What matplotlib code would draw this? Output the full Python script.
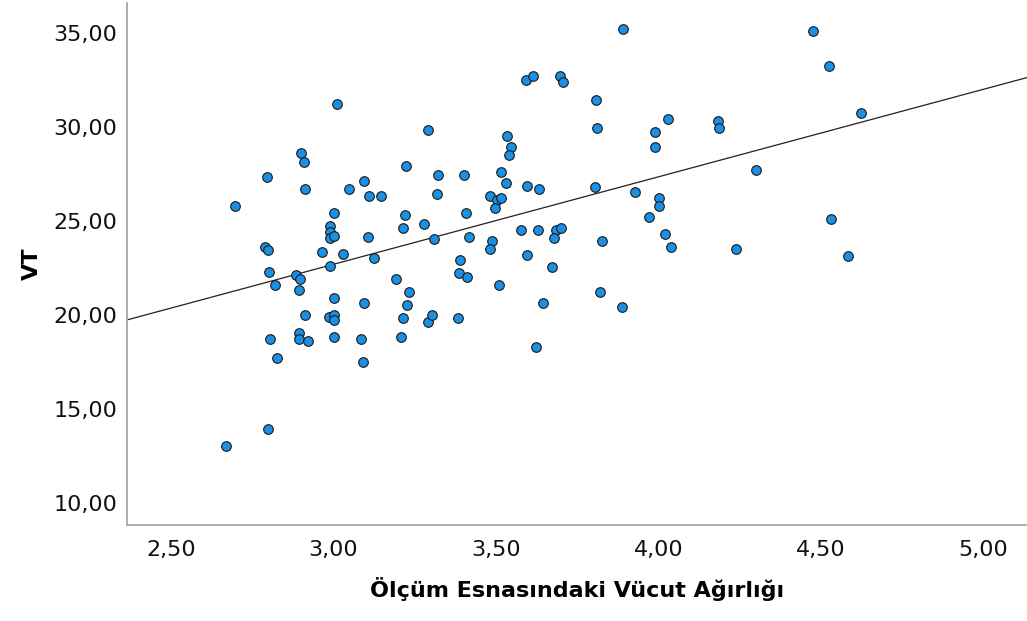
import numpy as np
import matplotlib
matplotlib.use("Agg")
import matplotlib.pyplot as plt
from matplotlib.ticker import FuncFormatter

# Values (x = body weight, y = VT)
weight = [3.012, 3.291, 2.900, 2.910, 3.223, 2.796, 2.914, 3.049, 3.094, 3.110,
          3.147, 2.697, 3.002, 3.221, 3.279, 3.213, 2.991, 2.989, 2.989, 3.002,
          3.106, 2.788, 2.798, 2.965, 3.028, 3.125, 2.989, 2.801, 2.885, 2.896,
          2.819, 2.893, 3.194, 3.233, 3.002, 3.093, 3.225, 2.913, 2.985, 3.002,
          3.002, 3.215, 3.291, 3.303, 2.895, 2.893, 2.922, 2.805, 3.002, 3.086,
          3.209, 2.825, 3.092, 2.798, 2.668,
          3.892, 3.591, 3.615, 3.696, 3.705, 3.808, 3.810, 4.029, 3.989, 3.989,
          4.184, 4.186, 3.533, 3.546, 3.540, 3.321, 3.402, 3.515, 3.530, 3.596,
          3.633, 3.804, 3.929, 3.319, 3.482, 3.502, 3.516, 3.497, 3.409, 4.002,
          4.002, 3.970, 3.308, 3.417, 3.576, 3.629, 3.685, 3.701, 3.679, 3.825,
          4.020, 4.038, 3.489, 3.481, 3.390, 3.596, 3.674, 3.387, 3.410, 3.510,
          3.646, 3.821, 3.887, 3.382, 3.622,
          4.476, 4.524, 4.624, 4.300, 4.530, 4.239, 4.582]
vt = [31.22, 29.84, 28.62, 28.12, 27.94, 27.32, 26.72, 26.72, 27.13, 26.33,
      26.33, 25.81, 25.43, 25.34, 24.82, 24.63, 24.72, 24.43, 24.11, 24.22,
      24.13, 23.63, 23.44, 23.34, 23.23, 23.03, 22.62, 22.30, 22.13, 21.91,
      21.61, 21.31, 21.91, 21.22, 20.92, 20.62, 20.52, 20.02, 19.91, 20.02,
      19.72, 19.82, 19.61, 20.02, 19.03, 18.72, 18.62, 18.72, 18.83, 18.72,
      18.83, 17.71, 17.52, 13.92, 13.02,
      35.21, 32.52, 32.71, 32.73, 32.41, 31.44, 29.93, 30.43, 29.72, 28.94,
      30.34, 29.93, 29.52, 28.94, 28.51, 27.43, 27.43, 27.62, 27.02, 26.85,
      26.72, 26.82, 26.53, 26.44, 26.33, 26.12, 26.22, 25.71, 25.44, 26.22,
      25.81, 25.21, 24.04, 24.13, 24.52, 24.52, 24.52, 24.63, 24.11, 23.92,
      24.32, 23.62, 23.94, 23.53, 22.93, 23.21, 22.57, 22.22, 22.01, 21.61,
      20.62, 21.21, 20.43, 19.82, 18.31,
      35.12, 33.23, 30.73, 27.71, 25.12, 23.51, 23.12]

x_ticks = [2.5, 3.0, 3.5, 4.0, 4.5, 5.0]
y_ticks = [10, 15, 20, 25, 30, 35]

x_label = "Ölçüm Esnasındaki Vücut Ağırlığı"
y_label = "VT"

plt.rcParams["font.family"] = "DejaVu Sans"

fig = plt.figure(figsize=(10.27, 6.21), dpi=100)
ax = fig.add_axes([0.1237, 0.1546, 0.8763, 0.8406])

x = np.array(weight)
y = np.array(vt)

ax.scatter(x, y, s=48, color="#1a8fe3", edgecolor="#1a1a1a", linewidth=0.8, zorder=3)

# total-sample linear fit line
slope, intercept = np.polyfit(x, y, 1)
xlim = (2.365, 5.134)
xs = np.array(xlim)
ax.plot(xs, intercept + slope * xs, color="#222222", lw=0.9, zorder=2)

ax.set_xlim(*xlim)
ax.set_ylim(8.83, 36.6)
ax.set_xticks(x_ticks)
ax.set_yticks(y_ticks)
fmt = FuncFormatter(lambda v, p: f"{v:.2f}".replace(".", ","))
ax.xaxis.set_major_formatter(fmt)
ax.yaxis.set_major_formatter(fmt)
ax.tick_params(axis="both", length=0, labelsize=16, colors="#111111")
ax.tick_params(axis="x", pad=11)
ax.tick_params(axis="y", pad=7)

for side in ["top", "right"]:
    ax.spines[side].set_visible(False)
for side in ["left", "bottom"]:
    ax.spines[side].set_color("#a0a0a0")
    ax.spines[side].set_linewidth(1.2)

ax.set_xlabel(x_label, fontsize=16, fontweight="bold", labelpad=12)
ax.set_ylabel(y_label, fontsize=16, fontweight="bold", labelpad=8)

fig.savefig("out.png", dpi=100)
